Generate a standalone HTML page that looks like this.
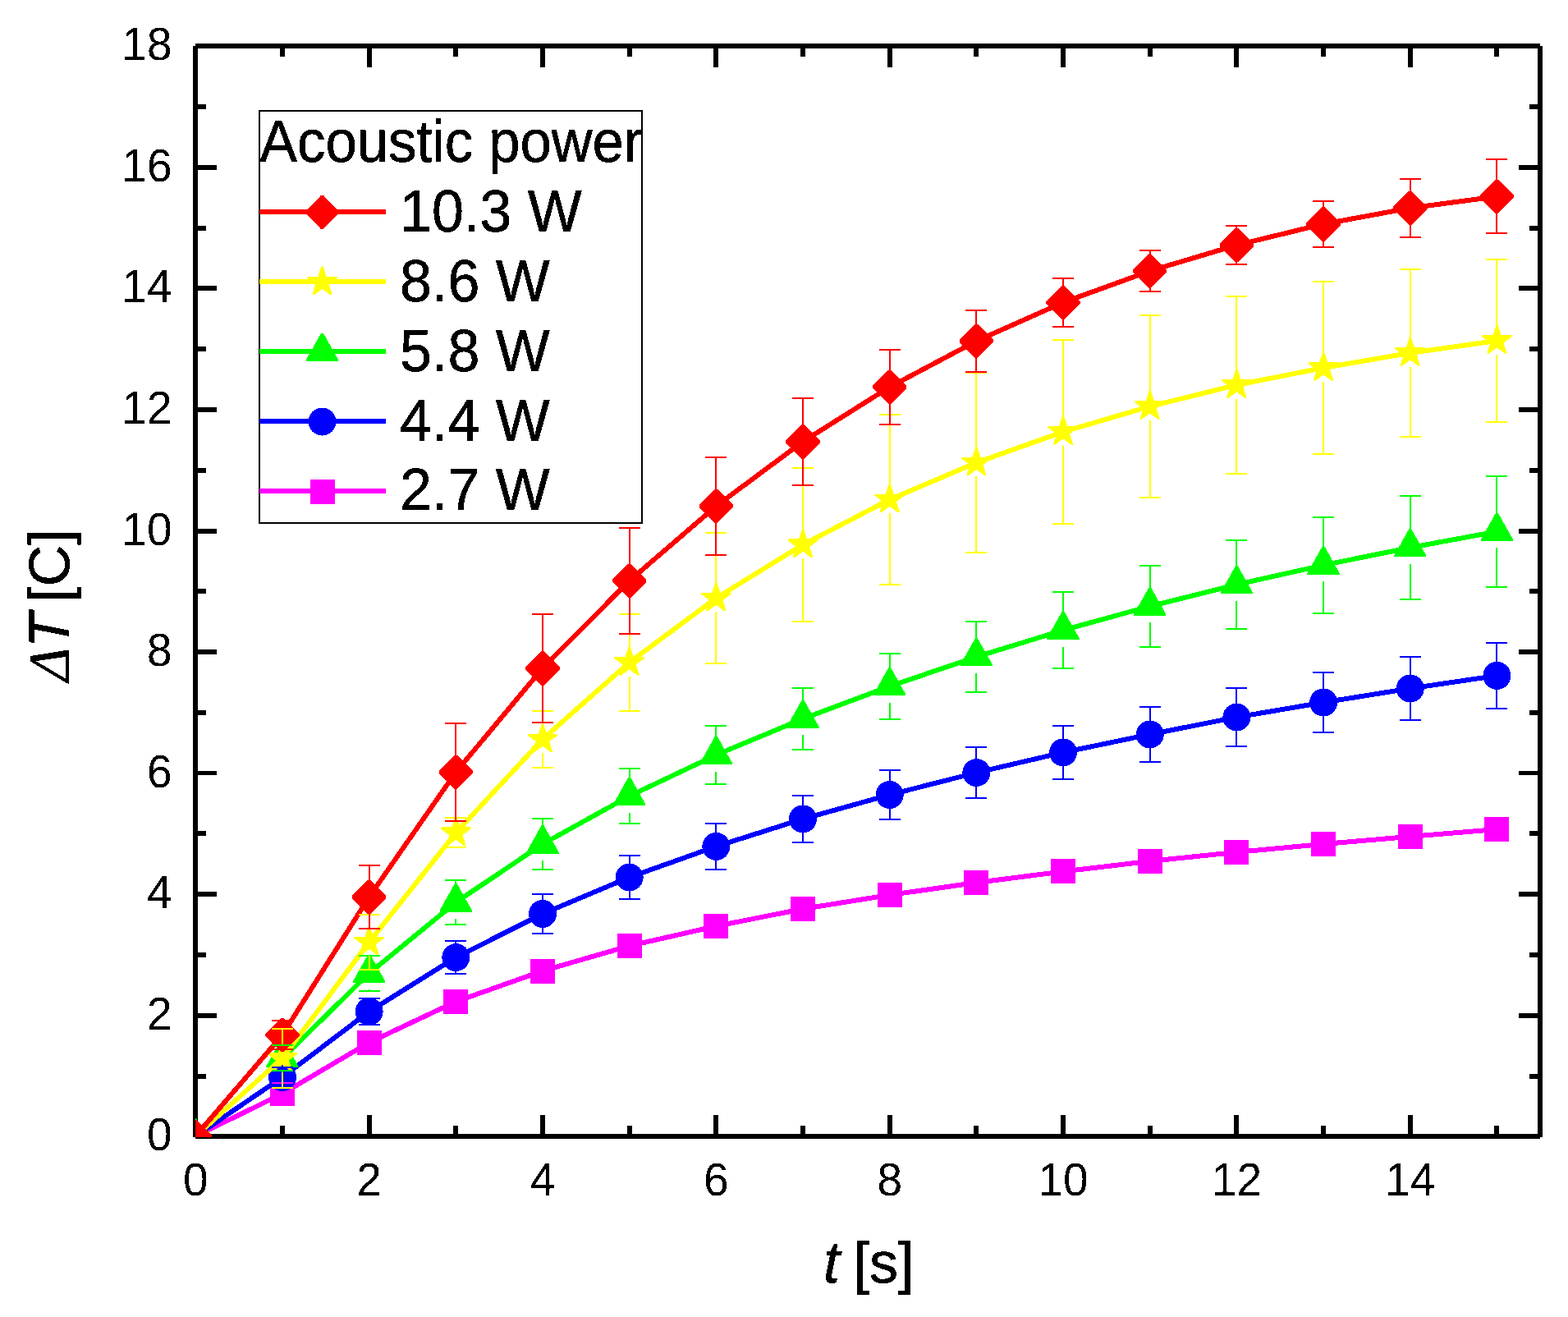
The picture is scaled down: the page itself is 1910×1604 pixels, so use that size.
<!DOCTYPE html>
<html lang="en"><head><meta charset="utf-8"><title>Temperature rise versus time for different acoustic powers</title>
<style>html,body{margin:0;padding:0;background:#fff}body{width:1910px;height:1604px;overflow:hidden}svg{display:block}text{font-family:"Liberation Sans",sans-serif;fill:#000;text-rendering:geometricPrecision}</style>
</head><body>
<svg width="1910" height="1604" viewBox="0 0 1910 1604">
<rect width="1910" height="1604" fill="#fff"/>
<g id="axes" stroke="#000" stroke-width="6" fill="none" shape-rendering="crispEdges">
<line x1="238" y1="56" x2="1876" y2="56"/>
<line x1="238" y1="1384" x2="1876" y2="1384"/>
<line x1="238" y1="56" x2="238" y2="1385"/>
<line x1="1876" y1="56" x2="1876" y2="1385"/>
<rect x="238" y="1308" width="13" height="6" fill="#000" stroke="none"/>
<rect x="1863" y="1308" width="13" height="6" fill="#000" stroke="none"/>
<rect x="238" y="1234" width="26" height="6" fill="#000" stroke="none"/>
<rect x="1850" y="1234" width="26" height="6" fill="#000" stroke="none"/>
<rect x="238" y="1160" width="13" height="6" fill="#000" stroke="none"/>
<rect x="1863" y="1160" width="13" height="6" fill="#000" stroke="none"/>
<rect x="238" y="1086" width="26" height="6" fill="#000" stroke="none"/>
<rect x="1850" y="1086" width="26" height="6" fill="#000" stroke="none"/>
<rect x="238" y="1012" width="13" height="6" fill="#000" stroke="none"/>
<rect x="1863" y="1012" width="13" height="6" fill="#000" stroke="none"/>
<rect x="238" y="939" width="26" height="5" fill="#000" stroke="none"/>
<rect x="1850" y="939" width="26" height="5" fill="#000" stroke="none"/>
<rect x="238" y="865" width="13" height="6" fill="#000" stroke="none"/>
<rect x="1863" y="865" width="13" height="6" fill="#000" stroke="none"/>
<rect x="238" y="791" width="26" height="6" fill="#000" stroke="none"/>
<rect x="1850" y="791" width="26" height="6" fill="#000" stroke="none"/>
<rect x="238" y="717" width="13" height="6" fill="#000" stroke="none"/>
<rect x="1863" y="717" width="13" height="6" fill="#000" stroke="none"/>
<rect x="238" y="644" width="26" height="6" fill="#000" stroke="none"/>
<rect x="1850" y="644" width="26" height="6" fill="#000" stroke="none"/>
<rect x="238" y="570" width="13" height="6" fill="#000" stroke="none"/>
<rect x="1863" y="570" width="13" height="6" fill="#000" stroke="none"/>
<rect x="238" y="496" width="26" height="6" fill="#000" stroke="none"/>
<rect x="1850" y="496" width="26" height="6" fill="#000" stroke="none"/>
<rect x="238" y="422" width="13" height="6" fill="#000" stroke="none"/>
<rect x="1863" y="422" width="13" height="6" fill="#000" stroke="none"/>
<rect x="238" y="348" width="26" height="6" fill="#000" stroke="none"/>
<rect x="1850" y="348" width="26" height="6" fill="#000" stroke="none"/>
<rect x="238" y="275" width="13" height="6" fill="#000" stroke="none"/>
<rect x="1863" y="275" width="13" height="6" fill="#000" stroke="none"/>
<rect x="238" y="201" width="26" height="6" fill="#000" stroke="none"/>
<rect x="1850" y="201" width="26" height="6" fill="#000" stroke="none"/>
<rect x="238" y="127" width="13" height="6" fill="#000" stroke="none"/>
<rect x="1863" y="127" width="13" height="6" fill="#000" stroke="none"/>
<rect x="341" y="1371" width="6" height="13" fill="#000" stroke="none"/>
<rect x="341" y="56" width="6" height="13" fill="#000" stroke="none"/>
<rect x="447" y="1358" width="6" height="26" fill="#000" stroke="none"/>
<rect x="447" y="56" width="6" height="26" fill="#000" stroke="none"/>
<rect x="552" y="1371" width="6" height="13" fill="#000" stroke="none"/>
<rect x="552" y="56" width="6" height="13" fill="#000" stroke="none"/>
<rect x="658" y="1358" width="6" height="26" fill="#000" stroke="none"/>
<rect x="658" y="56" width="6" height="26" fill="#000" stroke="none"/>
<rect x="764" y="1371" width="6" height="13" fill="#000" stroke="none"/>
<rect x="764" y="56" width="6" height="13" fill="#000" stroke="none"/>
<rect x="869" y="1358" width="6" height="26" fill="#000" stroke="none"/>
<rect x="869" y="56" width="6" height="26" fill="#000" stroke="none"/>
<rect x="975" y="1371" width="6" height="13" fill="#000" stroke="none"/>
<rect x="975" y="56" width="6" height="13" fill="#000" stroke="none"/>
<rect x="1081" y="1358" width="6" height="26" fill="#000" stroke="none"/>
<rect x="1081" y="56" width="6" height="26" fill="#000" stroke="none"/>
<rect x="1186" y="1371" width="6" height="13" fill="#000" stroke="none"/>
<rect x="1186" y="56" width="6" height="13" fill="#000" stroke="none"/>
<rect x="1292" y="1358" width="6" height="26" fill="#000" stroke="none"/>
<rect x="1292" y="56" width="6" height="26" fill="#000" stroke="none"/>
<rect x="1398" y="1371" width="6" height="13" fill="#000" stroke="none"/>
<rect x="1398" y="56" width="6" height="13" fill="#000" stroke="none"/>
<rect x="1503" y="1358" width="6" height="26" fill="#000" stroke="none"/>
<rect x="1503" y="56" width="6" height="26" fill="#000" stroke="none"/>
<rect x="1609" y="1371" width="6" height="13" fill="#000" stroke="none"/>
<rect x="1609" y="56" width="6" height="13" fill="#000" stroke="none"/>
<rect x="1715" y="1358" width="6" height="26" fill="#000" stroke="none"/>
<rect x="1715" y="56" width="6" height="26" fill="#000" stroke="none"/>
<rect x="1820" y="1371" width="6" height="13" fill="#000" stroke="none"/>
<rect x="1820" y="56" width="6" height="13" fill="#000" stroke="none"/>
</g>
<defs><clipPath id="plotclip"><rect x="238" y="40" width="1660" height="1345"/></clipPath><filter id="bin" filterUnits="userSpaceOnUse" x="0" y="0" width="1910" height="1604" color-interpolation-filters="sRGB"><feComponentTransfer><feFuncA type="discrete" tableValues="0 1"/></feComponentTransfer></filter></defs>
<g id="data" clip-path="url(#plotclip)" shape-rendering="crispEdges">
<g id="series-M">
<polyline fill="none" stroke="#ff00ff" stroke-width="6" stroke-linejoin="round" points="238,1384 343.93,1332 449.61,1269.75 555.29,1219.94 660.97,1182.5 766.65,1152 872.33,1127.96 978.01,1107 1083.69,1090 1189.37,1075 1295.05,1061.4 1400.73,1048.9 1506.41,1037.9 1612.09,1028 1717.77,1018.9 1823.45,1010.05"/>
<rect fill="#ff00ff" x="222.5" y="1369.6" width="30" height="30"/>
<rect fill="#ff00ff" x="328.93" y="1317" width="30" height="30"/>
<rect fill="#ff00ff" x="434.61" y="1254.75" width="30" height="30"/>
<rect fill="#ff00ff" x="540.29" y="1204.94" width="30" height="30"/>
<rect fill="#ff00ff" x="645.97" y="1167.5" width="30" height="30"/>
<rect fill="#ff00ff" x="751.65" y="1137" width="30" height="30"/>
<rect fill="#ff00ff" x="857.33" y="1112.96" width="30" height="30"/>
<rect fill="#ff00ff" x="963.01" y="1092" width="30" height="30"/>
<rect fill="#ff00ff" x="1068.69" y="1075" width="30" height="30"/>
<rect fill="#ff00ff" x="1174.37" y="1060" width="30" height="30"/>
<rect fill="#ff00ff" x="1280.05" y="1046.4" width="30" height="30"/>
<rect fill="#ff00ff" x="1385.73" y="1033.9" width="30" height="30"/>
<rect fill="#ff00ff" x="1491.41" y="1022.9" width="30" height="30"/>
<rect fill="#ff00ff" x="1597.09" y="1013" width="30" height="30"/>
<rect fill="#ff00ff" x="1702.77" y="1003.9" width="30" height="30"/>
<rect fill="#ff00ff" x="1808.45" y="995.05" width="30" height="30"/>
</g>
<g id="series-B">
<polyline fill="none" stroke="#0000ff" stroke-width="6" stroke-linejoin="round" points="238,1384 343.93,1312 449.61,1232.05 555.29,1166.07 660.97,1113 766.65,1068.5 872.33,1030.9 978.01,997.4 1083.69,968 1189.37,941.05 1295.05,916.4 1400.73,894.45 1506.41,873.5 1612.09,855.5 1717.77,838.5 1823.45,822.9"/>
<circle fill="#0000ff" cx="237.5" cy="1384.6" r="17"/>
<circle fill="#0000ff" cx="343.93" cy="1312" r="17"/>
<circle fill="#0000ff" cx="449.61" cy="1232.05" r="17"/>
<circle fill="#0000ff" cx="555.29" cy="1166.07" r="17"/>
<circle fill="#0000ff" cx="660.97" cy="1113" r="17"/>
<circle fill="#0000ff" cx="766.65" cy="1068.5" r="17"/>
<circle fill="#0000ff" cx="872.33" cy="1030.9" r="17"/>
<circle fill="#0000ff" cx="978.01" cy="997.4" r="17"/>
<circle fill="#0000ff" cx="1083.69" cy="968" r="17"/>
<circle fill="#0000ff" cx="1189.37" cy="941.05" r="17"/>
<circle fill="#0000ff" cx="1295.05" cy="916.4" r="17"/>
<circle fill="#0000ff" cx="1400.73" cy="894.45" r="17"/>
<circle fill="#0000ff" cx="1506.41" cy="873.5" r="17"/>
<circle fill="#0000ff" cx="1612.09" cy="855.5" r="17"/>
<circle fill="#0000ff" cx="1717.77" cy="838.5" r="17"/>
<circle fill="#0000ff" cx="1823.45" cy="822.9" r="17"/>
</g>
<g id="series-G">
<polyline fill="none" stroke="#00ff00" stroke-width="6" stroke-linejoin="round" points="238,1384 343.93,1288.9 449.61,1185.4 555.29,1099 660.97,1028 766.65,969.6 872.33,919.5 978.01,875.45 1083.69,835.9 1189.37,799.98 1295.05,767.5 1400.73,738.43 1506.41,711.96 1612.09,688.33 1717.77,666.97 1823.45,647.45"/>
<polygon fill="#00ff00" points="236,1362 239,1362 257.1,1394.25 257.1,1396.1 217.9,1396.1 217.9,1394.25"/>
<polygon fill="#00ff00" points="342.43,1266.3 345.43,1266.3 363.53,1298.55 363.53,1300.4 324.33,1300.4 324.33,1298.55"/>
<polygon fill="#00ff00" points="448.11,1162.8 451.11,1162.8 469.21,1195.05 469.21,1196.9 430.01,1196.9 430.01,1195.05"/>
<polygon fill="#00ff00" points="553.79,1076.4 556.79,1076.4 574.89,1108.65 574.89,1110.5 535.69,1110.5 535.69,1108.65"/>
<polygon fill="#00ff00" points="659.47,1005.4 662.47,1005.4 680.57,1037.65 680.57,1039.5 641.37,1039.5 641.37,1037.65"/>
<polygon fill="#00ff00" points="765.15,947 768.15,947 786.25,979.25 786.25,981.1 747.05,981.1 747.05,979.25"/>
<polygon fill="#00ff00" points="870.83,896.9 873.83,896.9 891.93,929.15 891.93,931 852.73,931 852.73,929.15"/>
<polygon fill="#00ff00" points="976.51,852.85 979.51,852.85 997.61,885.1 997.61,886.95 958.41,886.95 958.41,885.1"/>
<polygon fill="#00ff00" points="1082.19,813.3 1085.19,813.3 1103.29,845.55 1103.29,847.4 1064.09,847.4 1064.09,845.55"/>
<polygon fill="#00ff00" points="1187.87,777.38 1190.87,777.38 1208.97,809.63 1208.97,811.48 1169.77,811.48 1169.77,809.63"/>
<polygon fill="#00ff00" points="1293.55,744.9 1296.55,744.9 1314.65,777.15 1314.65,779 1275.45,779 1275.45,777.15"/>
<polygon fill="#00ff00" points="1399.23,715.83 1402.23,715.83 1420.33,748.08 1420.33,749.93 1381.13,749.93 1381.13,748.08"/>
<polygon fill="#00ff00" points="1504.91,689.36 1507.91,689.36 1526.01,721.61 1526.01,723.46 1486.81,723.46 1486.81,721.61"/>
<polygon fill="#00ff00" points="1610.59,665.73 1613.59,665.73 1631.69,697.98 1631.69,699.83 1592.49,699.83 1592.49,697.98"/>
<polygon fill="#00ff00" points="1716.27,644.37 1719.27,644.37 1737.37,676.62 1737.37,678.47 1698.17,678.47 1698.17,676.62"/>
<polygon fill="#00ff00" points="1821.95,624.85 1824.95,624.85 1843.05,657.1 1843.05,658.95 1803.85,658.95 1803.85,657.1"/>
</g>
<g id="series-Y">
<polyline fill="none" stroke="#ffff00" stroke-width="6" stroke-linejoin="round" points="238,1384 343.93,1288.9 449.61,1147.5 555.29,1014.3 660.97,900.4 766.65,806.76 872.33,728.4 978.01,663.37 1083.69,608.4 1189.37,563.5 1295.05,525.9 1400.73,494.98 1506.41,468.9 1612.09,448 1717.77,429.9 1823.45,415"/>
<polygon fill="#ffff00" stroke="#ffff00" stroke-width="2.6" stroke-linejoin="round" points="237.5,1366.5 241.56,1379.01 254.71,1379.01 244.08,1386.74 248.14,1399.24 237.5,1391.51 226.86,1399.24 230.92,1386.74 220.29,1379.01 233.44,1379.01"/>
<polygon fill="#ffff00" stroke="#ffff00" stroke-width="2.6" stroke-linejoin="round" points="343.93,1270.8 347.99,1283.31 361.14,1283.31 350.51,1291.04 354.57,1303.54 343.93,1295.81 333.29,1303.54 337.35,1291.04 326.72,1283.31 339.87,1283.31"/>
<polygon fill="#ffff00" stroke="#ffff00" stroke-width="2.6" stroke-linejoin="round" points="449.61,1129.4 453.67,1141.91 466.82,1141.91 456.19,1149.64 460.25,1162.14 449.61,1154.41 438.97,1162.14 443.03,1149.64 432.4,1141.91 445.55,1141.91"/>
<polygon fill="#ffff00" stroke="#ffff00" stroke-width="2.6" stroke-linejoin="round" points="555.29,996.2 559.35,1008.71 572.5,1008.71 561.87,1016.44 565.93,1028.94 555.29,1021.21 544.65,1028.94 548.71,1016.44 538.08,1008.71 551.23,1008.71"/>
<polygon fill="#ffff00" stroke="#ffff00" stroke-width="2.6" stroke-linejoin="round" points="660.97,882.3 665.03,894.81 678.18,894.81 667.55,902.54 671.61,915.04 660.97,907.31 650.33,915.04 654.39,902.54 643.76,894.81 656.91,894.81"/>
<polygon fill="#ffff00" stroke="#ffff00" stroke-width="2.6" stroke-linejoin="round" points="766.65,788.66 770.71,801.17 783.86,801.17 773.23,808.9 777.29,821.4 766.65,813.67 756.01,821.4 760.07,808.9 749.44,801.17 762.59,801.17"/>
<polygon fill="#ffff00" stroke="#ffff00" stroke-width="2.6" stroke-linejoin="round" points="872.33,710.3 876.39,722.81 889.54,722.81 878.91,730.54 882.97,743.04 872.33,735.31 861.69,743.04 865.75,730.54 855.12,722.81 868.27,722.81"/>
<polygon fill="#ffff00" stroke="#ffff00" stroke-width="2.6" stroke-linejoin="round" points="978.01,645.27 982.07,657.78 995.22,657.78 984.59,665.51 988.65,678.01 978.01,670.28 967.37,678.01 971.43,665.51 960.8,657.78 973.95,657.78"/>
<polygon fill="#ffff00" stroke="#ffff00" stroke-width="2.6" stroke-linejoin="round" points="1083.69,590.3 1087.75,602.81 1100.9,602.81 1090.27,610.54 1094.33,623.04 1083.69,615.31 1073.05,623.04 1077.11,610.54 1066.48,602.81 1079.63,602.81"/>
<polygon fill="#ffff00" stroke="#ffff00" stroke-width="2.6" stroke-linejoin="round" points="1189.37,545.4 1193.43,557.91 1206.58,557.91 1195.95,565.64 1200.01,578.14 1189.37,570.41 1178.73,578.14 1182.79,565.64 1172.16,557.91 1185.31,557.91"/>
<polygon fill="#ffff00" stroke="#ffff00" stroke-width="2.6" stroke-linejoin="round" points="1295.05,507.8 1299.11,520.31 1312.26,520.31 1301.63,528.04 1305.69,540.54 1295.05,532.81 1284.41,540.54 1288.47,528.04 1277.84,520.31 1290.99,520.31"/>
<polygon fill="#ffff00" stroke="#ffff00" stroke-width="2.6" stroke-linejoin="round" points="1400.73,476.88 1404.79,489.39 1417.94,489.39 1407.31,497.12 1411.37,509.62 1400.73,501.89 1390.09,509.62 1394.15,497.12 1383.52,489.39 1396.67,489.39"/>
<polygon fill="#ffff00" stroke="#ffff00" stroke-width="2.6" stroke-linejoin="round" points="1506.41,450.8 1510.47,463.31 1523.62,463.31 1512.99,471.04 1517.05,483.54 1506.41,475.81 1495.77,483.54 1499.83,471.04 1489.2,463.31 1502.35,463.31"/>
<polygon fill="#ffff00" stroke="#ffff00" stroke-width="2.6" stroke-linejoin="round" points="1612.09,429.9 1616.15,442.41 1629.3,442.41 1618.67,450.14 1622.73,462.64 1612.09,454.91 1601.45,462.64 1605.51,450.14 1594.88,442.41 1608.03,442.41"/>
<polygon fill="#ffff00" stroke="#ffff00" stroke-width="2.6" stroke-linejoin="round" points="1717.77,411.8 1721.83,424.31 1734.98,424.31 1724.35,432.04 1728.41,444.54 1717.77,436.81 1707.13,444.54 1711.19,432.04 1700.56,424.31 1713.71,424.31"/>
<polygon fill="#ffff00" stroke="#ffff00" stroke-width="2.6" stroke-linejoin="round" points="1823.45,396.9 1827.51,409.41 1840.66,409.41 1830.03,417.14 1834.09,429.64 1823.45,421.91 1812.81,429.64 1816.87,417.14 1806.24,409.41 1819.39,409.41"/>
</g>
<g id="series-R">
<polyline fill="none" stroke="#ff0000" stroke-width="6" stroke-linejoin="round" points="238,1384 343.93,1260.5 449.61,1092.5 555.29,940.4 660.97,813.9 766.65,707.4 872.33,616.4 978.01,537.9 1083.69,471.4 1189.37,415.4 1295.05,368.4 1400.73,330 1506.41,298.5 1612.09,272.9 1717.77,253.4 1823.45,239.3"/>
<polygon fill="#ff0000" points="236,1363.9 239,1363.9 258.2,1383.1 258.2,1386.1 239,1405.3 236,1405.3 216.8,1386.1 216.8,1383.1"/>
<polygon fill="#ff0000" points="342.43,1239.8 345.43,1239.8 364.63,1259 364.63,1262 345.43,1281.2 342.43,1281.2 323.23,1262 323.23,1259"/>
<polygon fill="#ff0000" points="448.11,1071.8 451.11,1071.8 470.31,1091 470.31,1094 451.11,1113.2 448.11,1113.2 428.91,1094 428.91,1091"/>
<polygon fill="#ff0000" points="553.79,919.7 556.79,919.7 575.99,938.9 575.99,941.9 556.79,961.1 553.79,961.1 534.59,941.9 534.59,938.9"/>
<polygon fill="#ff0000" points="659.47,793.2 662.47,793.2 681.67,812.4 681.67,815.4 662.47,834.6 659.47,834.6 640.27,815.4 640.27,812.4"/>
<polygon fill="#ff0000" points="765.15,686.7 768.15,686.7 787.35,705.9 787.35,708.9 768.15,728.1 765.15,728.1 745.95,708.9 745.95,705.9"/>
<polygon fill="#ff0000" points="870.83,595.7 873.83,595.7 893.03,614.9 893.03,617.9 873.83,637.1 870.83,637.1 851.63,617.9 851.63,614.9"/>
<polygon fill="#ff0000" points="976.51,517.2 979.51,517.2 998.71,536.4 998.71,539.4 979.51,558.6 976.51,558.6 957.31,539.4 957.31,536.4"/>
<polygon fill="#ff0000" points="1082.19,450.7 1085.19,450.7 1104.39,469.9 1104.39,472.9 1085.19,492.1 1082.19,492.1 1062.99,472.9 1062.99,469.9"/>
<polygon fill="#ff0000" points="1187.87,394.7 1190.87,394.7 1210.07,413.9 1210.07,416.9 1190.87,436.1 1187.87,436.1 1168.67,416.9 1168.67,413.9"/>
<polygon fill="#ff0000" points="1293.55,347.7 1296.55,347.7 1315.75,366.9 1315.75,369.9 1296.55,389.1 1293.55,389.1 1274.35,369.9 1274.35,366.9"/>
<polygon fill="#ff0000" points="1399.23,309.3 1402.23,309.3 1421.43,328.5 1421.43,331.5 1402.23,350.7 1399.23,350.7 1380.03,331.5 1380.03,328.5"/>
<polygon fill="#ff0000" points="1504.91,277.8 1507.91,277.8 1527.11,297 1527.11,300 1507.91,319.2 1504.91,319.2 1485.71,300 1485.71,297"/>
<polygon fill="#ff0000" points="1610.59,252.2 1613.59,252.2 1632.79,271.4 1632.79,274.4 1613.59,293.6 1610.59,293.6 1591.39,274.4 1591.39,271.4"/>
<polygon fill="#ff0000" points="1716.27,232.7 1719.27,232.7 1738.47,251.9 1738.47,254.9 1719.27,274.1 1716.27,274.1 1697.07,254.9 1697.07,251.9"/>
<polygon fill="#ff0000" points="1821.95,218.6 1824.95,218.6 1844.15,237.8 1844.15,240.8 1824.95,260 1821.95,260 1802.75,240.8 1802.75,237.8"/>
</g>
<g id="err-M" stroke="#ff00ff" stroke-width="2" fill="none">
<path d="M331 1319H357 M331 1345H357 M344 1319V1317 M344 1345V1347"/>
</g>
<g id="err-B" stroke="#0000ff" stroke-width="2" fill="none">
<path d="M331 1300H357 M331 1324H357 M344 1300V1297 M344 1324V1327"/>
<path d="M437 1216H463 M437 1248H463 M450 1216V1217 M450 1248V1247"/>
<path d="M542 1146H568 M542 1186H568 M555 1146V1151 M555 1186V1181"/>
<path d="M648 1089H674 M648 1137H674 M661 1089V1098 M661 1137V1128"/>
<path d="M754 1042H780 M754 1095H780 M767 1042V1054 M767 1095V1084"/>
<path d="M859 1003H885 M859 1059H885 M872 1003V1016 M872 1059V1046"/>
<path d="M965 969H991 M965 1026H991 M978 969V982 M978 1026V1012"/>
<path d="M1071 938H1097 M1071 998H1097 M1084 938V953 M1084 998V983"/>
<path d="M1176 910H1202 M1176 972H1202 M1189 910V926 M1189 972V956"/>
<path d="M1282 884H1308 M1282 949H1308 M1295 884V901 M1295 949V931"/>
<path d="M1388 861H1414 M1388 928H1414 M1401 861V879 M1401 928V909"/>
<path d="M1493 838H1519 M1493 909H1519 M1506 838V858 M1506 909V888"/>
<path d="M1599 819H1625 M1599 892H1625 M1612 819V840 M1612 892V870"/>
<path d="M1705 800H1731 M1705 877H1731 M1718 800V824 M1718 877V854"/>
<path d="M1810 783H1836 M1810 863H1836 M1823 783V808 M1823 863V838"/>
</g>
<g id="err-G" stroke="#00ff00" stroke-width="2" fill="none">
<path d="M331 1273H357 M331 1304H357 M344 1273V1269 M344 1304V1309"/>
<path d="M437 1164H463 M437 1207H463 M450 1164V1165 M450 1207V1205"/>
<path d="M542 1072H568 M542 1126H568 M555 1072V1079 M555 1126V1119"/>
<path d="M648 997H674 M648 1059H674 M661 997V1008 M661 1059V1048"/>
<path d="M754 936H780 M754 1003H780 M767 936V950 M767 1003V990"/>
<path d="M859 884H885 M859 955H885 M872 884V900 M872 955V940"/>
<path d="M965 838H991 M965 913H991 M978 838V855 M978 913V895"/>
<path d="M1071 796H1097 M1071 876H1097 M1084 796V816 M1084 876V856"/>
<path d="M1176 757H1202 M1176 843H1202 M1189 757V780 M1189 843V820"/>
<path d="M1282 721H1308 M1282 814H1308 M1295 721V748 M1295 814V788"/>
<path d="M1388 689H1414 M1388 788H1414 M1401 689V718 M1401 788V758"/>
<path d="M1493 658H1519 M1493 766H1519 M1506 658V692 M1506 766V732"/>
<path d="M1599 630H1625 M1599 747H1625 M1612 630V668 M1612 747V708"/>
<path d="M1705 604H1731 M1705 730H1731 M1718 604V647 M1718 730V687"/>
<path d="M1810 580H1836 M1810 715H1836 M1823 580V627 M1823 715V667"/>
</g>
<g id="err-Y" stroke="#ffff00" stroke-width="2" fill="none">
<path d="M331 1253H357 M331 1325H357 M344 1253V1272 M344 1325V1306"/>
<path d="M437 1114H463 M437 1181H463 M450 1114V1130 M450 1181V1164"/>
<path d="M542 996H568 M542 1032H568 M555 996V997 M555 1032V1031"/>
<path d="M648 866H674 M648 935H674 M661 866V883 M661 935V917"/>
<path d="M754 748H780 M754 866H780 M767 748V790 M767 866V824"/>
<path d="M859 649H885 M859 808H885 M872 649V711 M872 808V745"/>
<path d="M965 570H991 M965 757H991 M978 570V646 M978 757V680"/>
<path d="M1071 505H1097 M1071 712H1097 M1084 505V591 M1084 712V625"/>
<path d="M1176 454H1202 M1176 673H1202 M1189 454V546 M1189 673V580"/>
<path d="M1282 414H1308 M1282 638H1308 M1295 414V509 M1295 638V543"/>
<path d="M1388 384H1414 M1388 606H1414 M1401 384V478 M1401 606V512"/>
<path d="M1493 361H1519 M1493 577H1519 M1506 361V452 M1506 577V486"/>
<path d="M1599 343H1625 M1599 553H1625 M1612 343V431 M1612 553V465"/>
<path d="M1705 328H1731 M1705 532H1731 M1718 328V413 M1718 532V447"/>
<path d="M1810 316H1836 M1810 514H1836 M1823 316V398 M1823 514V432"/>
</g>
<g id="err-R" stroke="#ff0000" stroke-width="2" fill="none">
<path d="M331 1243H357 M331 1278H357 M344 1243V1240 M344 1278V1280"/>
<path d="M437 1054H463 M437 1131H463 M450 1054V1072 M450 1131V1112"/>
<path d="M542 881H568 M542 1000H568 M555 881V920 M555 1000V960"/>
<path d="M648 748H674 M648 880H674 M661 748V794 M661 880V834"/>
<path d="M754 643H780 M754 772H780 M767 643V687 M767 772V727"/>
<path d="M859 557H885 M859 676H885 M872 557V596 M872 676V636"/>
<path d="M965 485H991 M965 591H991 M978 485V518 M978 591V558"/>
<path d="M1071 426H1097 M1071 517H1097 M1084 426V451 M1084 517V491"/>
<path d="M1176 378H1202 M1176 453H1202 M1189 378V395 M1189 453V435"/>
<path d="M1282 339H1308 M1282 398H1308 M1295 339V348 M1295 398V388"/>
<path d="M1388 305H1414 M1388 355H1414 M1401 305V310 M1401 355V350"/>
<path d="M1493 275H1519 M1493 322H1519 M1506 275V278 M1506 322V318"/>
<path d="M1599 245H1625 M1599 301H1625 M1612 245V253 M1612 301V293"/>
<path d="M1705 218H1731 M1705 289H1731 M1718 218V233 M1718 289V273"/>
<path d="M1810 194H1836 M1810 284H1836 M1823 194V219 M1823 284V259"/>
</g>
</g>
<g id="legend" shape-rendering="crispEdges">
<rect x="316" y="135" width="466" height="502" fill="#fff" stroke="#000" stroke-width="2"/>
<line x1="316" y1="258" x2="470" y2="258" stroke="#ff0000" stroke-width="6"/><polygon fill="#ff0000" points="391.15,237.8 393.85,237.8 412.2,257.15 412.2,259.85 393.85,279.2 391.15,279.2 372.8,259.85 372.8,257.15"/>
<line x1="316" y1="343" x2="470" y2="343" stroke="#ffff00" stroke-width="6"/><polygon fill="#ffff00" stroke="#ffff00" stroke-width="2.6" stroke-linejoin="round" points="392.5,325.4 396.56,337.91 409.71,337.91 399.08,345.64 403.14,358.14 392.5,350.41 381.86,358.14 385.92,345.64 375.29,337.91 388.44,337.91"/>
<line x1="316" y1="428" x2="470" y2="428" stroke="#00ff00" stroke-width="6"/><polygon fill="#00ff00" points="391,405.9 394,405.9 412.1,438.15 412.1,440 372.9,440 372.9,438.15"/>
<line x1="316" y1="513" x2="470" y2="513" stroke="#0000ff" stroke-width="6"/><circle fill="#0000ff" cx="392.5" cy="513.5" r="17"/>
<line x1="316" y1="598" x2="470" y2="598" stroke="#ff00ff" stroke-width="6"/><rect fill="#ff00ff" x="377.5" y="583.5" width="30" height="30"/>
</g>
<g id="labels" filter="url(#bin)">
<g id="ticklabels">
<text transform="translate(209.5 1401) scale(1.000 1.030)" font-size="55" text-anchor="end" xml:space="preserve">0</text>
<text transform="translate(209.5 1254) scale(1.000 1.030)" font-size="55" text-anchor="end" xml:space="preserve">2</text>
<text transform="translate(209.5 1106) scale(1.000 1.030)" font-size="55" text-anchor="end" xml:space="preserve">4</text>
<text transform="translate(209.5 959) scale(1.000 1.030)" font-size="55" text-anchor="end" xml:space="preserve">6</text>
<text transform="translate(209.5 811) scale(1.000 1.030)" font-size="55" text-anchor="end" xml:space="preserve">8</text>
<text transform="translate(209.5 664) scale(1.000 1.030)" font-size="55" text-anchor="end" xml:space="preserve">10</text>
<text transform="translate(209.5 516) scale(1.000 1.030)" font-size="55" text-anchor="end" xml:space="preserve">12</text>
<text transform="translate(209.5 368) scale(1.000 1.030)" font-size="55" text-anchor="end" xml:space="preserve">14</text>
<text transform="translate(209.5 221) scale(1.000 1.030)" font-size="55" text-anchor="end" xml:space="preserve">16</text>
<text transform="translate(209.5 73) scale(1.000 1.030)" font-size="55" text-anchor="end" xml:space="preserve">18</text>
<text transform="translate(238.25 1456) scale(1.000 1.030)" font-size="55" text-anchor="middle" xml:space="preserve">0</text>
<text transform="translate(449.61 1456) scale(1.000 1.030)" font-size="55" text-anchor="middle" xml:space="preserve">2</text>
<text transform="translate(660.97 1456) scale(1.000 1.030)" font-size="55" text-anchor="middle" xml:space="preserve">4</text>
<text transform="translate(872.33 1456) scale(1.000 1.030)" font-size="55" text-anchor="middle" xml:space="preserve">6</text>
<text transform="translate(1083.69 1456) scale(1.000 1.030)" font-size="55" text-anchor="middle" xml:space="preserve">8</text>
<text transform="translate(1295.05 1456) scale(1.000 1.030)" font-size="55" text-anchor="middle" xml:space="preserve">10</text>
<text transform="translate(1506.41 1456) scale(1.000 1.030)" font-size="55" text-anchor="middle" xml:space="preserve">12</text>
<text transform="translate(1717.77 1456) scale(1.000 1.030)" font-size="55" text-anchor="middle" xml:space="preserve">14</text>
</g>
<text id="xtitle" transform="translate(1003 1562)" font-size="70" stroke="#000" stroke-width="0.5" stroke-linejoin="round" xml:space="preserve"><tspan font-style="italic" font-size="72">t</tspan><tspan dx="-3"> [s]</tspan></text>
<text id="ytitle" transform="translate(84.1 830) rotate(-90)" font-size="70" stroke="#000" stroke-width="0.5" stroke-linejoin="round" xml:space="preserve"><tspan font-family="'Liberation Serif',serif" font-style="italic" font-size="70">Δ</tspan><tspan font-style="italic" font-size="70" dx="0">T</tspan><tspan dx="-7"> [C]</tspan></text>
<text transform="translate(316.2 197) scale(1.000 1.056)" font-size="68.8" stroke="#000" stroke-width="0.5" stroke-linejoin="round" xml:space="preserve">Acoustic power</text>
<text transform="translate(487 282) scale(1.000 1.040)" font-size="70" stroke="#000" stroke-width="0.5" stroke-linejoin="round" xml:space="preserve">10.3 W</text>
<text transform="translate(487 367) scale(1.000 1.040)" font-size="70" stroke="#000" stroke-width="0.5" stroke-linejoin="round" xml:space="preserve">8.6 W</text>
<text transform="translate(487 452) scale(1.000 1.040)" font-size="70" stroke="#000" stroke-width="0.5" stroke-linejoin="round" xml:space="preserve">5.8 W</text>
<text transform="translate(487 537) scale(1.000 1.040)" font-size="70" stroke="#000" stroke-width="0.5" stroke-linejoin="round" xml:space="preserve">4.4 W</text>
<text transform="translate(487 621) scale(1.000 1.040)" font-size="70" stroke="#000" stroke-width="0.5" stroke-linejoin="round" xml:space="preserve">2.7 W</text>
</g>
</svg>
</body></html>
